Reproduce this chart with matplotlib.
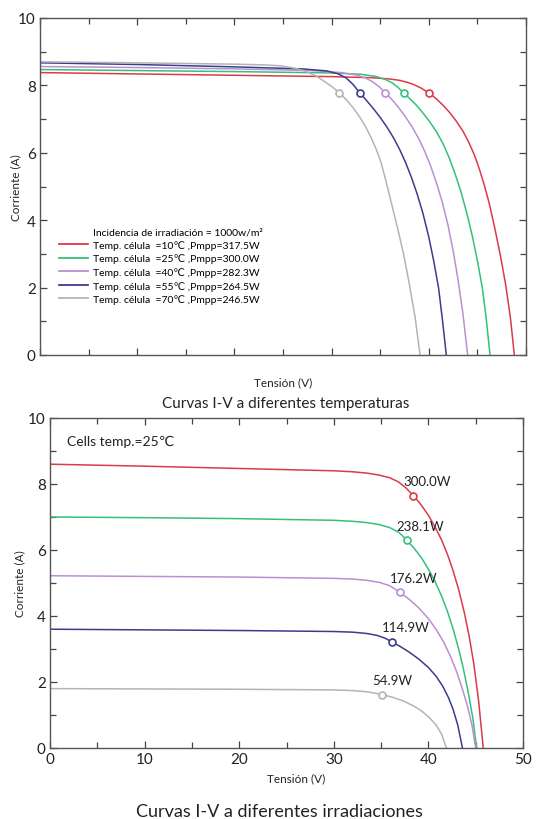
import matplotlib
matplotlib.use('Agg')
import matplotlib.pyplot as plt
from matplotlib.lines import Line2D
from matplotlib.ticker import MultipleLocator

plt.rcParams['font.family'] = ['Lato', 'DejaVu Sans']

RED = '#dc3a48'
GREEN = '#35c07a'
PURPLE = '#bb8fd3'
NAVY = '#3c3c8c'
GRAY = '#b4b4b4'

# ---- top chart: 1000 W/m2, different cell temperatures ----
v_10c = [0, 10, 20, 30, 34, 36, 37.0, 37.8, 38.5, 39.2, 40.0, 40.7, 41.4, 42.1, 42.8, 43.5,
         44.1, 44.7, 45.2, 45.7, 46.2, 46.8, 47.4, 47.9, 48.4, 48.8]
i_10c = [8.38, 8.34, 8.30, 8.26, 8.23, 8.19, 8.15, 8.09, 8.02, 7.92, 7.78, 7.62, 7.43, 7.21, 6.95, 6.65,
         6.32, 5.93, 5.52, 5.05, 4.52, 3.75, 2.90, 2.10, 1.10, 0]
v_25c = [0, 10, 20, 30, 33, 34.5, 35.5, 36.2, 36.8, 37.4, 38.0, 38.7, 39.4, 40.1, 40.8, 41.5,
         42.1, 42.7, 43.3, 43.9, 44.5, 45.0, 45.5, 45.9, 46.3]
i_25c = [8.47, 8.44, 8.41, 8.37, 8.33, 8.27, 8.18, 8.08, 7.95, 7.78, 7.62, 7.42, 7.18, 6.92, 6.62, 6.25,
         5.85, 5.38, 4.85, 4.22, 3.50, 2.80, 2.00, 1.10, 0]
v_40c = [0, 10, 20, 28, 31, 32.5, 33.5, 34.2, 34.9, 35.5, 36.2, 36.9, 37.6, 38.3, 39.0, 39.6,
         40.2, 40.8, 41.4, 42.0, 42.5, 43.0, 43.5, 44.0]
i_40c = [8.56, 8.53, 8.49, 8.44, 8.38, 8.31, 8.22, 8.11, 7.96, 7.78, 7.58, 7.34, 7.07, 6.76, 6.40, 6.03,
         5.60, 5.10, 4.52, 3.82, 3.10, 2.25, 1.25, 0]
v_55c = [0, 10, 20, 27, 29.5, 30.7, 31.5, 32.2, 32.9, 33.6, 34.3, 35.0, 35.7, 36.4, 37.0, 37.6,
         38.2, 38.8, 39.4, 40.0, 40.5, 41.0, 41.4, 41.8]
i_55c = [8.67, 8.62, 8.55, 8.49, 8.43, 8.34, 8.22, 8.03, 7.78, 7.55, 7.31, 7.05, 6.76, 6.43, 6.10, 5.72,
         5.28, 4.78, 4.20, 3.50, 2.80, 2.00, 1.05, 0]
v_70c = [0, 10, 20, 23, 24.8, 26.2, 27.4, 28.4, 29.2, 30.0, 30.8, 31.5, 32.2, 32.9, 33.5, 34.1,
         34.6, 35.1, 35.6, 36.2, 36.8, 37.4, 38.0, 38.6, 39.1]
i_70c = [8.70, 8.67, 8.63, 8.61, 8.58, 8.51, 8.41, 8.28, 8.13, 7.97, 7.78, 7.58, 7.34, 7.06, 6.77, 6.43,
         6.10, 5.70, 5.15, 4.45, 3.75, 3.00, 2.10, 1.10, 0]

temp_mpp_v = [40.0, 37.4, 35.5, 32.9, 30.8]
temp_mpp_i = [7.78, 7.78, 7.78, 7.78, 7.78]
temp_labels = ['Temp. célula  =10℃ ,Pmpp=317.5W',
               'Temp. célula  =25℃ ,Pmpp=300.0W',
               'Temp. célula  =40℃ ,Pmpp=282.3W',
               'Temp. célula  =55℃ ,Pmpp=264.5W',
               'Temp. célula  =70℃ ,Pmpp=246.5W']

# ---- bottom chart: 25 C, different irradiance ----
v_1000 = [0, 10, 20, 30, 32, 33.5, 34.8, 35.9, 36.8, 37.6, 38.4, 39.2, 40.0, 40.7, 41.4, 42.0,
          42.6, 43.2, 43.8, 44.3, 44.8, 45.3, 45.8]
i_1000 = [8.60, 8.54, 8.47, 8.40, 8.37, 8.33, 8.27, 8.19, 8.07, 7.89, 7.65, 7.38, 7.05, 6.70, 6.30, 5.88,
          5.38, 4.80, 4.10, 3.40, 2.55, 1.45, 0]
v_800 = [0, 10, 20, 30, 32, 33.5, 34.8, 35.9, 36.9, 37.7, 38.5, 39.3, 40.0, 40.7, 41.4, 42.0,
         42.6, 43.2, 43.7, 44.2, 44.7, 45.1]
i_800 = [7.00, 6.98, 6.95, 6.90, 6.87, 6.83, 6.77, 6.68, 6.53, 6.30, 6.05, 5.75, 5.42, 5.05, 4.60, 4.15,
         3.62, 3.00, 2.40, 1.70, 0.90, 0]
v_600 = [0, 10, 20, 30, 32, 33.5, 34.8, 35.9, 37.0, 38.0, 39.0, 40.0, 40.8, 41.6, 42.3, 43.0,
         43.6, 44.1, 44.6, 45.0]
i_600 = [5.22, 5.20, 5.18, 5.14, 5.12, 5.08, 5.02, 4.92, 4.72, 4.50, 4.24, 3.92, 3.60, 3.22, 2.80, 2.30,
         1.78, 1.30, 0.70, 0]
v_400 = [0, 10, 20, 30, 32, 33.5, 34.6, 35.4, 36.1, 37.0, 38.0, 39.0, 40.0, 40.8, 41.5, 42.1,
         42.6, 43.1, 43.6]
i_400 = [3.60, 3.58, 3.56, 3.53, 3.51, 3.47, 3.41, 3.33, 3.22, 3.08, 2.90, 2.69, 2.44, 2.18, 1.88, 1.54,
         1.18, 0.70, 0]
v_200 = [0, 10, 20, 30, 32, 33.6, 35.1, 36.3, 37.4, 38.4, 39.3, 40.1, 40.8, 41.4, 41.9]
i_200 = [1.80, 1.79, 1.78, 1.76, 1.74, 1.70, 1.62, 1.53, 1.42, 1.28, 1.12, 0.92, 0.70, 0.42, 0]

irr_mpp_v = [38.4, 37.7, 37.0, 36.1, 35.1]
irr_mpp_i = [7.65, 6.30, 4.72, 3.22, 1.62]
irr_labels = ['300.0W', '238.1W', '176.2W', '114.9W', '54.9W']

colors = [RED, GREEN, PURPLE, NAVY, GRAY]
temp_curves = [(v_10c, i_10c), (v_25c, i_25c), (v_40c, i_40c), (v_55c, i_55c), (v_70c, i_70c)]
irr_curves = [(v_1000, i_1000), (v_800, i_800), (v_600, i_600), (v_400, i_400), (v_200, i_200)]


def style_axes(ax, show_xlabels):
    ax.set_xlim(0, 50)
    ax.set_ylim(0, 10)
    ax.xaxis.set_major_locator(MultipleLocator(10))
    ax.xaxis.set_minor_locator(MultipleLocator(5))
    ax.yaxis.set_major_locator(MultipleLocator(2))
    ax.yaxis.set_minor_locator(MultipleLocator(1))
    ax.tick_params(which='both', direction='in', top=True, right=True,
                   color='#444444', width=0.9)
    ax.tick_params(which='major', length=5, labelsize=11, pad=3, labelcolor='#222222')
    ax.tick_params(which='minor', length=4)
    if not show_xlabels:
        ax.tick_params(axis='x', labelbottom=False)
    for s in ax.spines.values():
        s.set_color('#555555')
        s.set_linewidth(1.0)


fig = plt.figure(figsize=(5.39, 8.20), dpi=100)

# top chart
ax1 = fig.add_axes([40 / 539, 1 - 356 / 820, 486 / 539, 337 / 820])
style_axes(ax1, False)
for (v, i), c in zip(temp_curves, colors):
    ax1.plot(v, i, color=c, lw=1.1)
for vm, im, c in zip(temp_mpp_v, temp_mpp_i, colors):
    ax1.plot(vm, im, 'o', ms=5, mfc='white', mec=c, mew=1.2)
ax1.set_xlabel('Tensión (V)', fontsize=8.5, labelpad=12, color='#222222')
ax1.set_ylabel('Corriente (A)', fontsize=8.5, labelpad=-2, color='#222222')

handles = [Line2D([], [], color='none')]
handles += [Line2D([], [], color=c, lw=1.3) for c in colors]
labels = ['Incidencia de irradiación = 1000w/m²'] + temp_labels
ax1.legend(handles, labels, loc='upper left', bbox_to_anchor=(0.039, 0.38),
           frameon=False, fontsize=7.5, handlelength=2.8, handletextpad=0.5,
           labelspacing=0.36, borderpad=0, borderaxespad=0)

fig.text(286 / 539, 1 - 404 / 820, 'Curvas I-V a diferentes temperaturas',
         ha='center', va='center', fontsize=11, color='#222222')

# bottom chart
ax2 = fig.add_axes([50 / 539, 1 - 749 / 820, 473 / 539, 330 / 820])
style_axes(ax2, True)
for (v, i), c in zip(irr_curves, colors):
    ax2.plot(v, i, color=c, lw=1.1)
for vm, im, c, lab in zip(irr_mpp_v, irr_mpp_i, colors, irr_labels):
    ax2.plot(vm, im, 'o', ms=5, mfc='white', mec=c, mew=1.2)
    ax2.annotate(lab, (vm, im), xytext=(-7, 6), textcoords='offset points',
                 ha='left', va='bottom', fontsize=9.5, color='#222222')
ax2.text(0.035, 0.93, 'Cells temp.=25℃', transform=ax2.transAxes,
         ha='left', va='center', fontsize=10, color='#222222')
ax2.set_xlabel('Tensión (V)', fontsize=8.5, labelpad=6, color='#222222')
ax2.xaxis.set_label_coords(0.52, -0.075)
ax2.set_ylabel('Corriente (A)', fontsize=8.5, labelpad=2, color='#222222')

fig.text(279 / 539, 1 - 812 / 820, 'Curvas I-V a diferentes irradiaciones',
         ha='center', va='center', fontsize=13, color='#222222')

fig.savefig('out.png', dpi=100)
